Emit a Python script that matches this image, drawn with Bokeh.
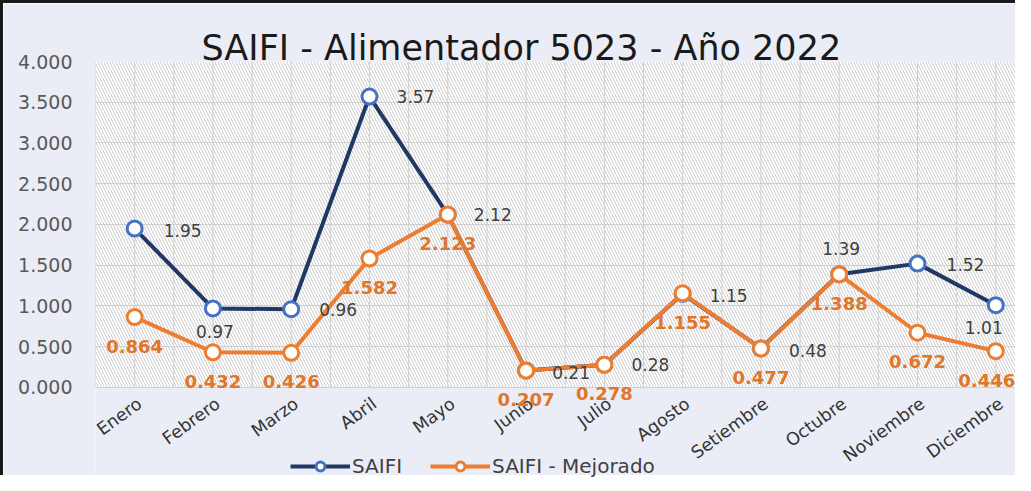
import numpy as np
from bokeh.plotting import figure
from bokeh.models import (ColumnDataSource, FixedTicker, NumeralTickFormatter,
                          BoxAnnotation, Legend, LegendItem, Range1d)
from bokeh.core.properties import value
from bokeh.embed import file_html
from bokeh.resources import INLINE

# ---- data ----
months = ["Enero", "Febrero", "Marzo", "Abril", "Mayo", "Junio", "Julio",
          "Agosto", "Setiembre", "Octubre", "Noviembre", "Diciembre"]
saifi = [1.95, 0.97, 0.96, 3.57, 2.12, 0.21, 0.28, 1.15, 0.48, 1.39, 1.52, 1.01]
mejorado = [0.864, 0.432, 0.426, 1.582, 2.123, 0.207, 0.278, 1.155, 0.477,
            1.388, 0.672, 0.446]
y_ticks = [0.0, 0.5, 1.0, 1.5, 2.0, 2.5, 3.0, 3.5, 4.0]

# ---- label placement (pixels, positive dy = downwards) ----
saifi_dx = [48, 2, 47, 46, 45, 45, 46, 46, 47, 2, 48, -12]
saifi_dy = [2, 23, 0, 0, 0, 2, 0, 2, 2, -26, 1, 22]
mej_dx = [0] * 11 + [-9]
mej_dy = [29] * 12

NAVY = "#203864"
BLUE = "#4472c4"
ORANGE = "#ed7d31"
ORANGE_TXT = "#e0762c"
BG = "#eaedf6"

Y_MIN, Y_MAX = 0.0, 4.0
Y_LOW = -1.1166   # extra room below the axis for month labels and legend

xs = list(range(len(months)))
src_s = ColumnDataSource(dict(x=xs, y=saifi, t=[f"{v:.2f}" for v in saifi],
                              dx=saifi_dx, dy=saifi_dy))
src_m = ColumnDataSource(dict(x=xs, y=mejorado, t=[f"{v:.3f}" for v in mejorado],
                              dx=mej_dx, dy=mej_dy))
src_x = ColumnDataSource(dict(x=xs, y=[Y_MIN] * len(xs), t=months))

p = figure(width=1015, height=475, output_backend="svg", toolbar_location=None,
           x_range=Range1d(-0.5, 11.29), y_range=Range1d(Y_LOW, Y_MAX),
           min_border_left=92, min_border_right=0, min_border_top=58,
           min_border_bottom=0)
p.styles = {"border-top": "3px solid #1a1a1a", "border-left": "3px solid #1a1a1a"}

p.title.text = "SAIFI - Alimentador 5023 - Año 2022"
p.title.align = "left"
p.title.offset = 106
p.title.standoff = -12
p.title.text_font = "DejaVu Sans"
p.title.text_font_size = "35px"
p.title.text_font_style = "normal"
p.title.text_color = "#1a1a1a"

p.background_fill_color = BG
p.border_fill_color = BG
p.outline_line_color = None

# hatched plot area (0..4 only)
p.add_layout(BoxAnnotation(bottom=Y_MIN, top=Y_MAX, fill_color="white",
                           fill_alpha=1.0, line_color=None,
                           hatch_pattern="\\", hatch_color="#cccccc",
                           hatch_scale=6, hatch_weight=1, level="image"))

# grids
p.xgrid.visible = False
vlines = list(np.arange(-0.5, 11.6, 0.5))
p.segment(x0=vlines, y0=[Y_MIN] * len(vlines), x1=vlines, y1=[Y_MAX] * len(vlines),
          line_color="#d0d0d0", line_width=1, level="underlay")
p.ygrid.ticker = FixedTicker(ticks=y_ticks)
p.ygrid.grid_line_color = "#d0d0d0"

# axes
p.yaxis.ticker = FixedTicker(ticks=y_ticks)
p.yaxis.formatter = NumeralTickFormatter(format="0.000")
p.yaxis.axis_line_color = None
p.yaxis.major_tick_line_color = None
p.yaxis.minor_tick_line_color = None
p.yaxis.major_label_text_font = "DejaVu Sans"
p.yaxis.major_label_text_font_size = "19px"
p.yaxis.major_label_text_color = "#595959"
p.yaxis.major_label_standoff = 17
p.xaxis.visible = False

# month labels (rotated)
p.text("x", "y", text="t", source=src_x, angle=0.63, x_offset=5, y_offset=14,
       text_align="right", text_baseline="middle",
       text_font=value("DejaVu Sans"), text_font_size="17.5px",
       text_color="#333333")

# series
l1 = p.line("x", "y", source=src_s, line_color=NAVY, line_width=4)
m1 = p.scatter("x", "y", source=src_s, marker="circle", size=15,
               fill_color="white", line_color=BLUE, line_width=3)
l2 = p.line("x", "y", source=src_m, line_color=ORANGE, line_width=4)
m2 = p.scatter("x", "y", source=src_m, marker="circle", size=15,
               fill_color="white", line_color=ORANGE, line_width=3)

# data labels
p.text("x", "y", text="t", source=src_s, x_offset="dx", y_offset="dy",
       text_align="center", text_baseline="middle",
       text_font=value("DejaVu Sans"), text_font_size="17px",
       text_color="#404040")
p.text("x", "y", text="t", source=src_m, x_offset="dx", y_offset="dy",
       text_align="center", text_baseline="middle",
       text_font=value("DejaVu Sans"), text_font_size="18px",
       text_font_style="bold", text_color=ORANGE_TXT)

legend = Legend(items=[LegendItem(label="SAIFI", renderers=[l1, m1]),
                       LegendItem(label="SAIFI - Mejorado", renderers=[l2, m2])],
                orientation="horizontal", location=(195, 0),
                background_fill_alpha=0, border_line_color=None,
                glyph_width=60, glyph_height=22, spacing=28, padding=0, margin=0,
                label_text_font="DejaVu Sans", label_text_font_size="20px",
                label_text_color="#404040", label_standoff=2)
p.add_layout(legend, "center")

open("out.html", "w").write(file_html(p, INLINE))
